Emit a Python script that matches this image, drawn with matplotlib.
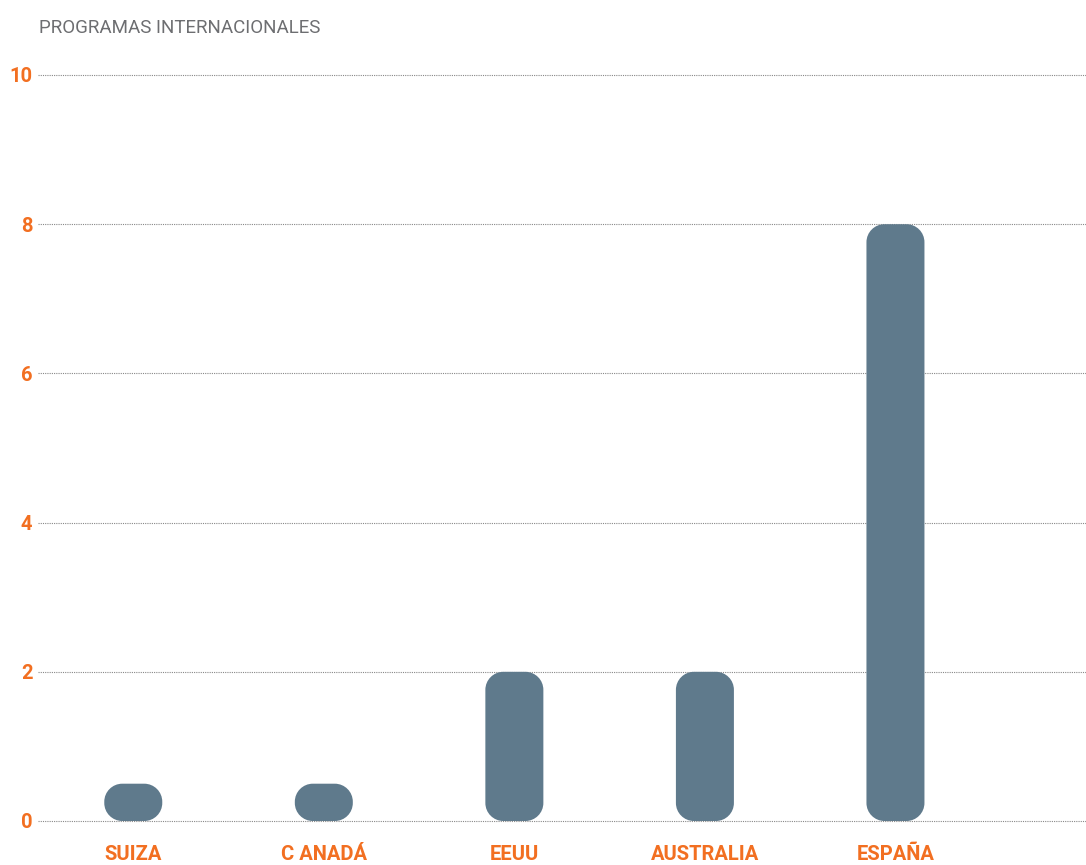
import matplotlib.pyplot as plt
from matplotlib.path import Path
from matplotlib.patches import PathPatch

# datos
paises = ["SUIZA", "C ANADÁ", "EEUU", "AUSTRALIA", "ESPAÑA"]
programas = [0.5, 0.5, 2, 2, 8]
yticks = [0, 2, 4, 6, 8, 10]

naranja = "#F26F21"
gris_barra = "#5F7A8C"

W, H = 1086, 865
fig = plt.figure(figsize=(W / 100, H / 100), dpi=100)

# ejes colocados en pixeles: y=0 en 821px, y=10 en 75px
ppu_y = (821 - 75) / 10.0
y0, y1 = -0.1, 10.1
bot_px = 821 + (0 - y0) * ppu_y
top_px = 75 - (y1 - 10) * ppu_y
ax = fig.add_axes([38 / W, (H - bot_px) / H, (W - 38) / W, (bot_px - top_px) / H])
ax.set_xlim(-0.5, 5.0)
ax.set_ylim(y0, y1)

ppu_x = (W - 38) / 5.5
ancho = 58 / ppu_x
r_px = 18


def barra_redonda(xc, w, h, rx, ry):
    # rectangulo con esquinas redondeadas (bezier cubica)
    k = 0.5523
    x0, x1 = xc - w / 2, xc + w / 2
    ry = min(ry, h / 2)
    v = [(x0 + rx, 0), (x1 - rx, 0),
         (x1 - rx + k * rx, 0), (x1, ry - k * ry), (x1, ry),
         (x1, h - ry),
         (x1, h - ry + k * ry), (x1 - rx + k * rx, h), (x1 - rx, h),
         (x0 + rx, h),
         (x0 + rx - k * rx, h), (x0, h - ry + k * ry), (x0, h - ry),
         (x0, ry),
         (x0, ry - k * ry), (x0 + rx - k * rx, 0), (x0 + rx, 0),
         (x0 + rx, 0)]
    c = [Path.MOVETO, Path.LINETO,
         Path.CURVE4, Path.CURVE4, Path.CURVE4,
         Path.LINETO,
         Path.CURVE4, Path.CURVE4, Path.CURVE4,
         Path.LINETO,
         Path.CURVE4, Path.CURVE4, Path.CURVE4,
         Path.LINETO,
         Path.CURVE4, Path.CURVE4, Path.CURVE4,
         Path.CLOSEPOLY]
    return Path(v, c)


for i, v in enumerate(programas):
    p = PathPatch(barra_redonda(i, ancho, v, r_px / ppu_x, r_px / ppu_y),
                  facecolor=gris_barra, edgecolor="none", zorder=3)
    ax.add_patch(p)

ax.set_yticks(yticks)
ax.set_yticklabels([str(t) for t in yticks])
ax.set_xticks(range(len(paises)))
ax.set_xticklabels(paises)
ax.grid(axis="y", linestyle=(0, (1, 1)), color="#888888", linewidth=0.8, zorder=0)
ax.tick_params(length=0)
ax.tick_params(axis="y", pad=4)
ax.tick_params(axis="x", pad=12)
for lab in ax.get_yticklabels() + ax.get_xticklabels():
    lab.set_color(naranja)
    lab.set_fontweight("bold")
    lab.set_fontsize(14.5)
    lab.set_fontfamily("Roboto")
for s in ax.spines.values():
    s.set_visible(False)

fig.text(39 / W, 1 - 28 / H, "PROGRAMAS INTERNACIONALES", color="#6D6E71",
         fontsize=13.5, fontfamily="Roboto", va="center", ha="left")

fig.savefig("out.png", dpi=100)
